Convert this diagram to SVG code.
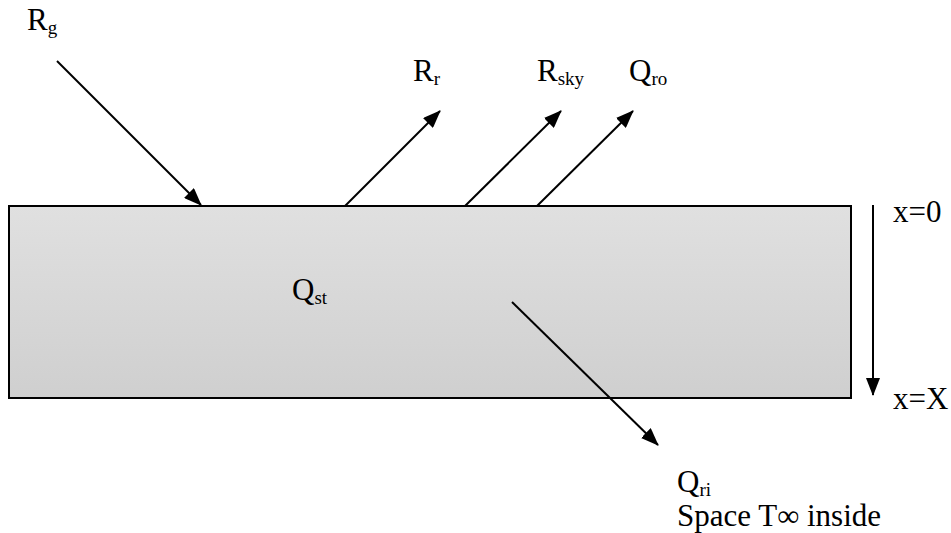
<svg xmlns="http://www.w3.org/2000/svg" width="951" height="533" viewBox="0 0 951 533">
<defs>
<linearGradient id="g" x1="0" y1="0" x2="0" y2="1">
<stop offset="0" stop-color="#e0e0e0"/>
<stop offset="1" stop-color="#cfcfcf"/>
</linearGradient>
<marker id="ah" viewBox="0 0 18 14" refX="17" refY="7" markerWidth="18" markerHeight="14" markerUnits="userSpaceOnUse" orient="auto">
<path d="M0,0 L18,7 L0,14 z" fill="#000"/>
</marker>
<style>
text{font-family:"Liberation Serif","Times New Roman",serif;font-size:31px;fill:#000}
.s{font-size:19px}
.c{stroke:#000;stroke-width:2;fill:none;marker-end:url(#ah)}
</style>
</defs>
<g id="slab">
<rect x="9" y="206" width="842" height="192" fill="url(#g)" stroke="#000" stroke-width="2"/>
<text x="292" y="300">Q<tspan class="s" dy="4">st</tspan></text>
</g>
<g id="connectors">
<line class="c" x1="57" y1="61" x2="201" y2="205"/>
<line class="c" x1="345" y1="206" x2="440" y2="111"/>
<line class="c" x1="465" y1="206" x2="561" y2="111"/>
<line class="c" x1="537" y1="206" x2="633" y2="111"/>
<line class="c" x1="512" y1="302" x2="658" y2="445"/>
<line class="c" x1="873" y1="205" x2="873" y2="395"/>
</g>
<g id="label-rg"><text x="27" y="30">R<tspan class="s" dy="4">g</tspan></text></g>
<g id="label-rr"><text x="413" y="81">R<tspan class="s" dy="4">r</tspan></text></g>
<g id="label-rsky"><text x="537" y="81">R<tspan class="s" dy="4">sky</tspan></text></g>
<g id="label-qro"><text x="629" y="81">Q<tspan class="s" dy="4">ro</tspan></text></g>
<g id="label-x0"><text x="893" y="222">x=0</text></g>
<g id="label-xX"><text x="893" y="409">x=X</text></g>
<g id="label-qri">
<text x="677" y="492">Q<tspan class="s" dy="4">ri</tspan></text>
<text x="677" y="526">Space T∞ inside</text>
</g>
</svg>
